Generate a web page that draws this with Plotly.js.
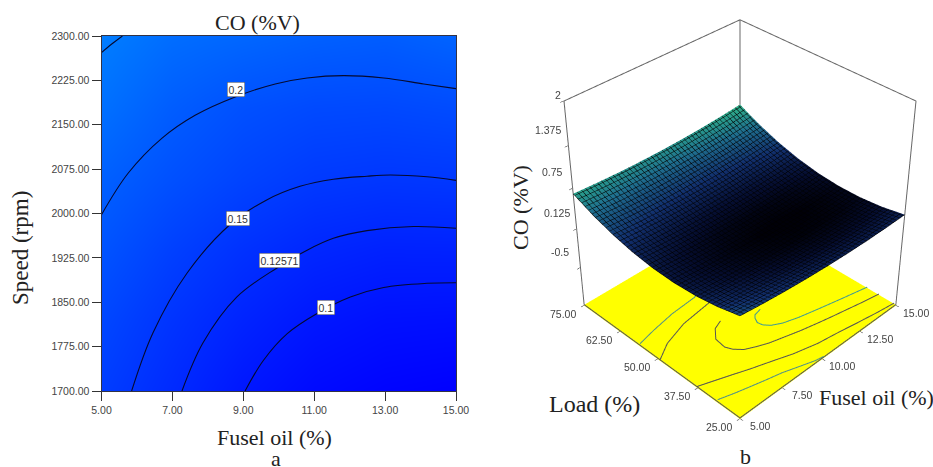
<!DOCTYPE html>
<html><head><meta charset="utf-8"><script src="https://cdn.plot.ly/plotly-3.0.1.min.js"></script>
<style>html,body{margin:0;padding:0;background:#fff;overflow:hidden;width:933px;height:467px}
#c{position:absolute;left:0;top:0;width:933px;height:467px}
#clip{position:absolute;left:480px;top:0;width:453px;height:467px;overflow:hidden;pointer-events:none}
#s{position:absolute;left:-243px;top:-294px;width:1006px;height:1006px}</style></head><body><div id="c"></div><div id="clip"><div id="s"></div></div>
<script>
const fuelA=[5,7,9,11,13,15];
const speedA=[1700,1820,1940,2060,2180,2300];
const coA=[[.16,.13,.10,.08,.07,.065],[.175,.145,.12,.10,.09,.088],[.195,.165,.142,.125,.117,.118],[.215,.19,.17,.155,.15,.152],[.24,.21,.19,.18,.178,.183],[.26,.235,.225,.215,.21,.22]];
const c25x=[5,5.28,5.59], c25y=[2272,2286,2300];
const c20x=[5,5.75,6.7,7.64,8.77,9.9,10.8,11.83,12.96,14.09,15], c20y=[1998,2068,2127,2166,2197,2219,2229,2233,2229,2219,2211];
const c15x=[5.85,6.45,7.41,8.62,9.66,10.6,11.54,12.49,13.15,14.18,15], c15y=[1700,1798,1899,1981,2023,2046,2058,2063,2065,2062,2056];
const c12x=[7.27,7.86,8.82,9.95,10.8,11.54,12.49,13.8,15], c12y=[1700,1781,1859,1908,1938,1958,1971,1978,1975];
const c10x=[9.05,9.57,10.24,11.08,12.02,12.96,14.18,15], c10y=[1700,1752,1797,1831,1859,1875,1882,1883];
const fuelB=[5,6.25,7.5,8.75,10,11.25,12.5,13.75,15];
const loadB=[25,31.25,37.5,43.75,50,56.25,62.5,68.75,75];
const coB=[
[.470,.429,.395,.369,.350,.339,.335,.339,.350],
[.386,.347,.316,.292,.276,.267,.266,.272,.286],
[.333,.296,.268,.246,.233,.226,.228,.236,.253],
[.311,.277,.251,.232,.221,.217,.221,.232,.251],
[.320,.289,.265,.249,.240,.239,.245,.259,.280],
[.361,.332,.311,.297,.291,.292,.301,.317,.341],
[.433,.406,.388,.376,.373,.376,.388,.406,.433],
[.536,.512,.496,.487,.486,.492,.506,.527,.556],
[.670,.649,.635,.629,.630,.639,.655,.679,.710]];
const fuelTicks=[5,7.5,10,12.5,15], loadTicks=[25,37.5,50,62.5,75];
const zTicks=[-.5,.125,.75,1.375,2];
const zFloor=-1.125;
const curveAf=[5.04,6.06,7.37,8.83,10], curveAl=[56,57.2,58.4,59,60.5];
const curveBf=[5,5.9,7.28,8.93,10], curveBl=[49.2,51.9,54.1,55.2,56];
const curveCf=[8.57,8.05,7.58,7.5,7.65,7.98,8.51,9.05,9.71,10.6,11.51,12.3,13.16,14,15], curveCl=[49,48,45.4,42.2,40.5,38.7,37.4,36.3,35.4,34.2,33.2,32.4,31.6,30.8,30];
const curveDf=[10.39,9.95,9.79,9.65,9.71,9.95,10.42,11.2,12.17,13.5,15], curveDl=[45.5,45,44.2,42.8,41.4,40,38.7,37.5,36.4,35,33.5];
const curveEf=[5,5.8,6.54,7.3,8.05,9.3,10.54,11.7,12.8,14,15], curveEl=[37.6,36.2,34.9,33.5,32.3,30.2,28.7,27.9,27,26.1,25.5];
const curveFf=[5.06,5.8,6.5,7.3,8.09,8.9,9.66,10.1], curveFl=[31.8,30.7,29.8,28.8,27.9,26.6,25.4,25];
const W=933,H=467,S=1006;
const traces=[{type:'heatmap',x:fuelA,y:speedA,z:coA,zsmooth:'best',showscale:false,colorscale:[[0,'rgb(0,0,255)'],[1,'rgb(0,125,255)']],hoverinfo:'skip'}];
[[c25x,c25y],[c20x,c20y],[c15x,c15y],[c12x,c12y],[c10x,c10y]].forEach(l=>traces.push({type:'scatter',mode:'lines',x:l[0],y:l[1],line:{color:'#050a30',width:1.1,shape:'spline',smoothing:1},hoverinfo:'skip'}));
const t3=[{type:'surface',x:fuelB,y:loadB,z:coB,showscale:false,cmin:.22,cmax:.72,
 colorscale:[[0,'#000008'],[.12,'#050d30'],[.35,'#12306e'],[.65,'#1f6f8f'],[1,'#2fb88a']],lighting:{ambient:1,diffuse:0,specular:0,roughness:1,fresnel:0},
 contours:{x:{show:true,start:5,end:15,size:.22,color:'#000',width:4},y:{show:true,start:25,end:75,size:1.1,color:'#000',width:4}},hoverinfo:'skip'}];
const floorLine=(fx,fy,color)=>({type:'scatter3d',mode:'lines',x:fx,y:fy,z:fx.map(()=>zFloor+.01),line:{color:color,width:2},hoverinfo:'skip'});
[[curveAf,curveAl,'#4f8f8a'],[curveBf,curveBl,'#555'],[curveCf,curveCl,'#555'],[curveDf,curveDl,'#3f9a95'],[curveEf,curveEl,'#555'],[curveFf,curveFl,'#4f8f8a']].forEach(c=>t3.push(floorLine(c[0],c[1],c[2])));
const zTop=zTicks[zTicks.length-1];
t3.push({type:'scatter3d',mode:'lines',x:[5,5,15,15,15,15,15,15],y:[75,75,75,75,75,25,25,25],z:[zFloor,zTop,zTop,zFloor,zTop,zTop,zFloor,zFloor],line:{color:'#666',width:2},hoverinfo:'skip'});
t3.push({type:'scatter3d',mode:'lines',x:[5,5,15],y:[75,25,25],z:[zFloor,zFloor,zFloor],line:{color:'#555',width:2},hoverinfo:'skip'});
const annots=[['CO (%V)',257,22,22,0],['Fusel oil (%)',274,437,22,0],['a',276,458,22,0],['Speed (rpm)',20,248,23,-90],['CO (%V)',520,208,22,-90],['Load (%)',594,404,24,0],['Fusel oil (%)',876,397,22,0],['b',745,456,22,0]]
 .map(a=>({text:a[0],x:a[1]/W,y:1-a[2]/H,xref:'paper',yref:'paper',showarrow:false,xanchor:'center',yanchor:'middle',textangle:a[4],font:{family:'Liberation Serif',size:a[3],color:'#222'}}));
[['0.2',236,89],['0.15',238,218],['0.12571',279.5,260],['0.1',326,307]].forEach(l=>annots.push({text:l[0],xref:'x',yref:'y',x:5+(l[1]-101.5)/35.45,y:1700+(391-l[2])/355*600,showarrow:false,bgcolor:'#fff',bordercolor:'#555',borderwidth:.5,borderpad:1,font:{family:'Liberation Sans',size:10.5,color:'#333'}}));
const axf={family:'Liberation Sans',size:10.5,color:'#444'};
const sa=[];
const tick=(x,y,z,text,xs,ys)=>sa.push({x,y,z,text,showarrow:false,xshift:xs,yshift:ys,font:axf});
fuelTicks.forEach(f=>tick(f,25,zFloor,f.toFixed(2),20,-8));
loadTicks.forEach(l=>tick(5,l,zFloor,l.toFixed(2),-21,-9));
zTicks.forEach(z=>tick(5,75,z,z===2?'2':String(z),z===2?-6:-20,z===2?6:16));
const layout={width:W,height:H,margin:{l:0,r:0,t:0,b:0},paper_bgcolor:'#fff',showlegend:false,annotations:annots,
 xaxis:{domain:[101.5/W,456/W],range:[5,15],tickvals:[5,7,9,11,13,15],tickformat:'.2f',ticks:'outside',ticklen:9,tickcolor:'#333',showgrid:false,zeroline:false,showline:true,mirror:true,linecolor:'#334',tickfont:axf},
 yaxis:{domain:[1-391/H,1-36/H],range:[1700,2300],tickvals:[1700,1775,1850,1925,2000,2075,2150,2225,2300],tickformat:'.2f',ticks:'outside',ticklen:9,tickcolor:'#333',showgrid:false,zeroline:false,showline:true,mirror:true,linecolor:'#334',tickfont:axf}};
const layout3={width:S,height:S,margin:{l:0,r:0,t:0,b:0},paper_bgcolor:'rgba(0,0,0,0)',showlegend:false,
 scene:{bgcolor:'rgba(0,0,0,0)',domain:{x:[0,1],y:[0,1]},aspectmode:'manual',aspectratio:{x:1,y:1,z:1.075},annotations:sa,camera:{projection:{type:'perspective'},eye:{x:-2.96,y:-2.96,z:3.04},center:{x:0,y:0,z:0},up:{x:0,y:0,z:1}},
  xaxis:{range:[4.98,15.02],tickvals:fuelTicks,showticklabels:false,title:{text:''},showgrid:false,zeroline:false,showbackground:false,ticks:'outside',ticklen:3,tickcolor:'#222'},
  yaxis:{range:[24.9,75.1],tickvals:loadTicks,showticklabels:false,title:{text:''},showgrid:false,zeroline:false,showbackground:false,ticks:'outside',ticklen:3,tickcolor:'#222'},
  zaxis:{range:[zFloor-.01,zTop+.01],tickvals:zTicks,showticklabels:false,title:{text:''},showgrid:false,zeroline:false,showbackground:true,backgroundcolor:'#ffff00',ticks:'outside',ticklen:3,tickcolor:'#222'}}};
Plotly.newPlot('c',traces,layout,{displayModeBar:false});
Plotly.newPlot('s',t3,layout3,{displayModeBar:false});
</script></body></html>
